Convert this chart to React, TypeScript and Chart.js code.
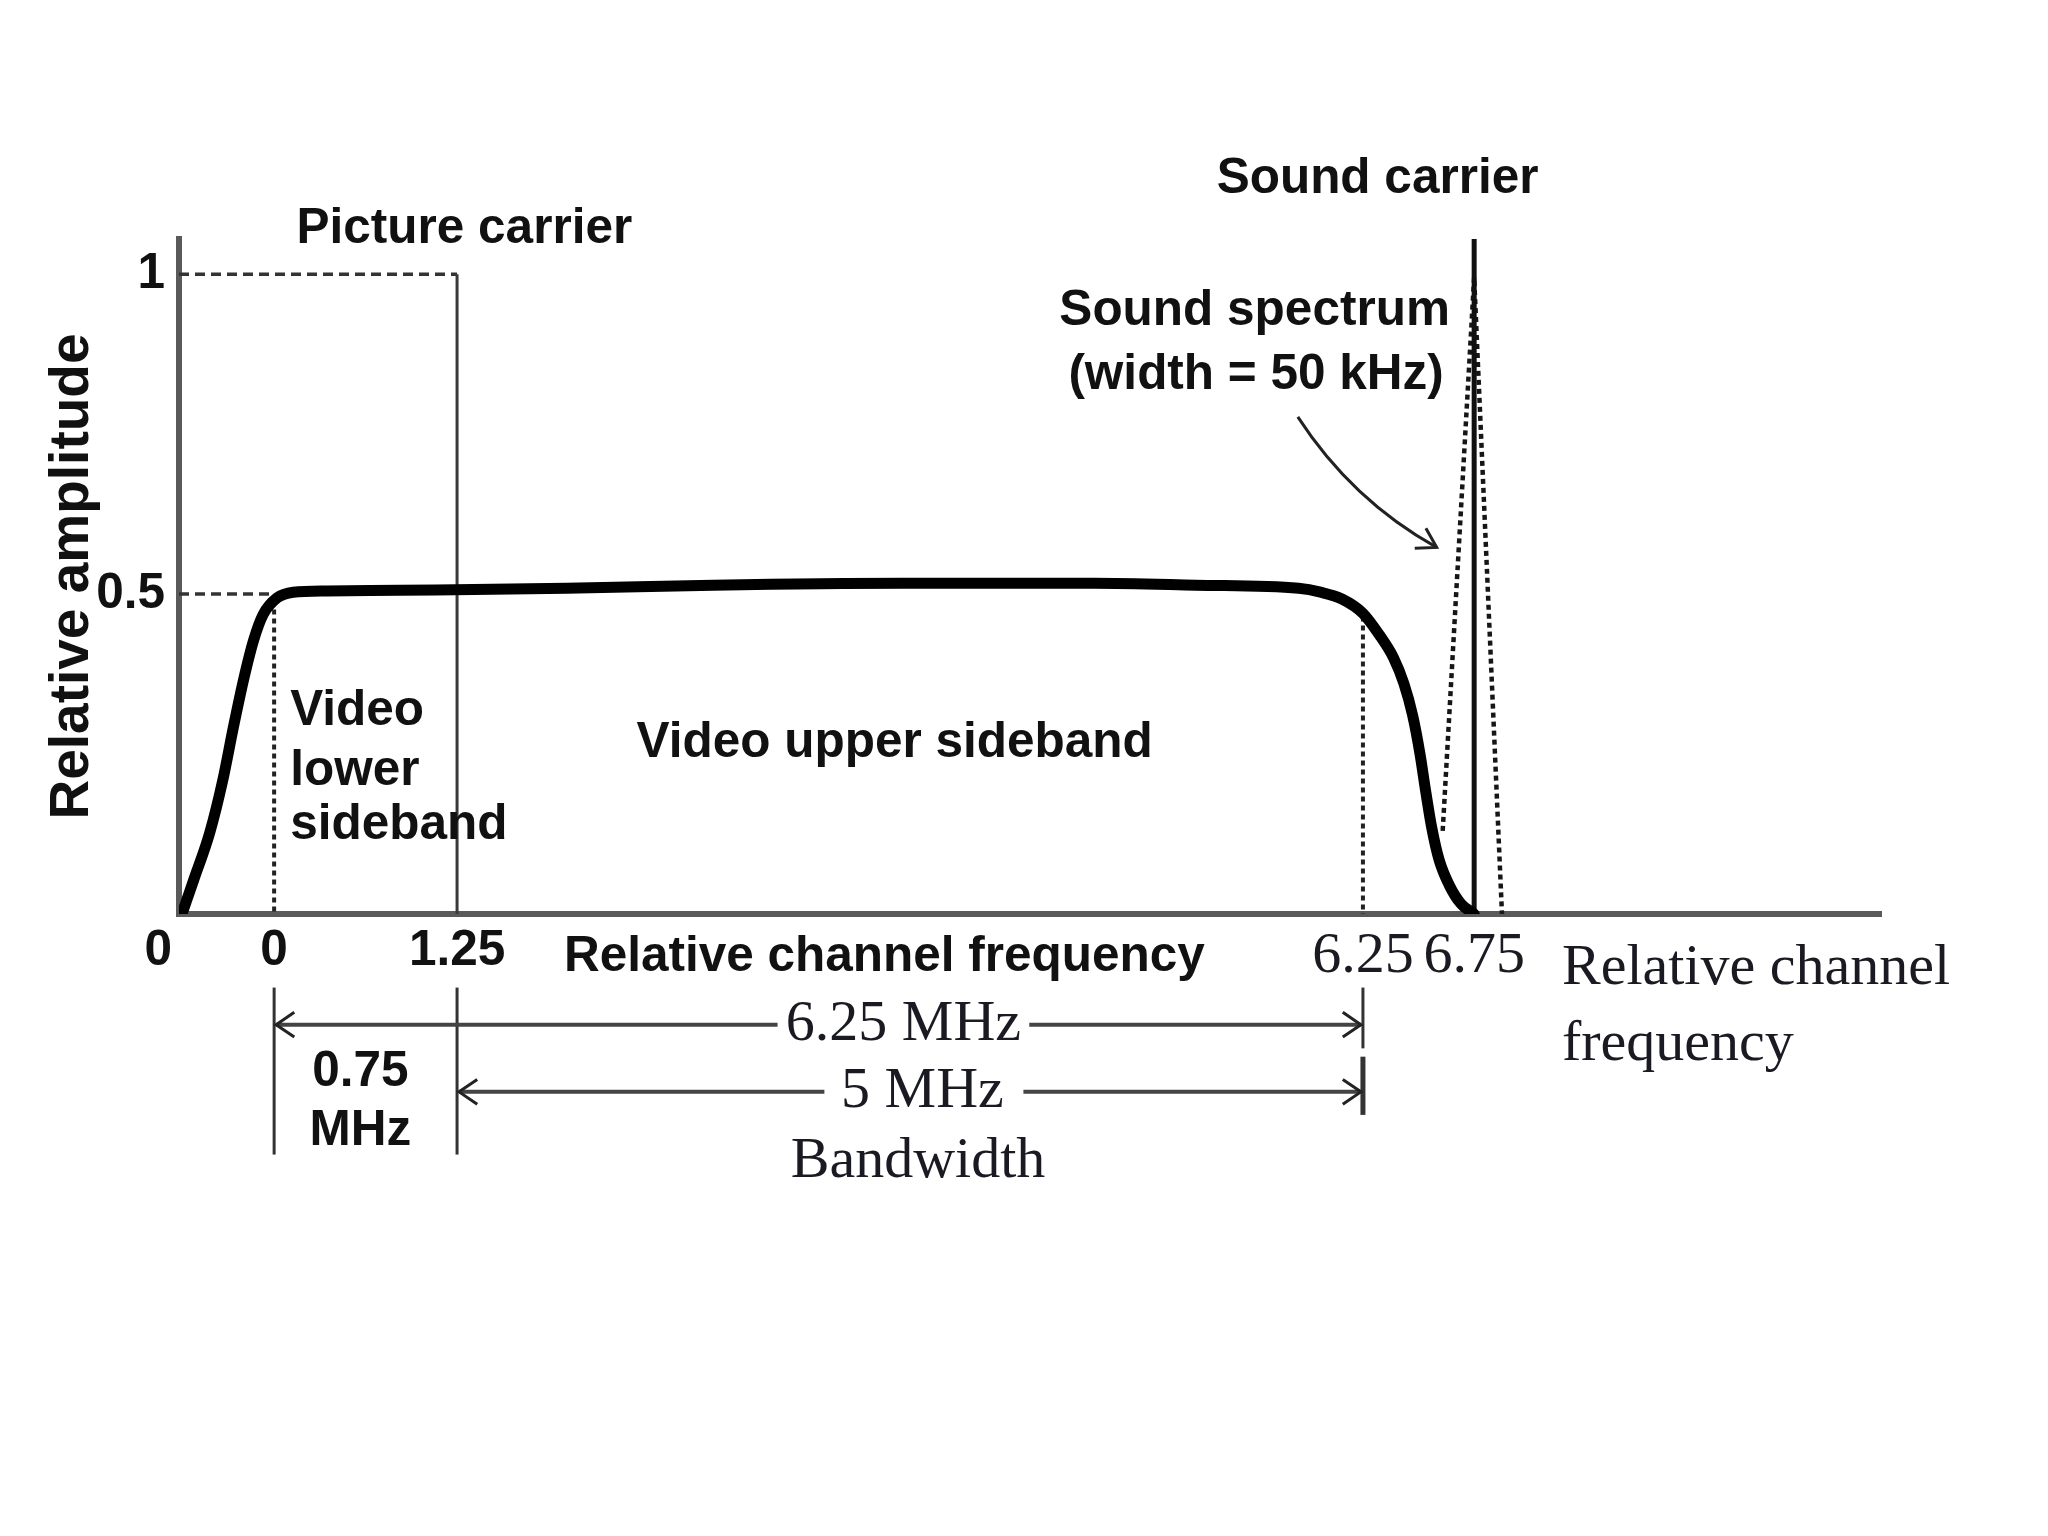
import React, { useEffect, useRef } from "react";
import { Chart, registerables } from "chart.js";

Chart.register(...registerables);

// x is in diagram units: 0 = lower band edge, 1.25 = picture carrier (the drawing is not to scale)
const curveX = [-0.63, -0.55, -0.44, -0.35, -0.28, -0.21, -0.14, -0.075, 0.02, 0.13, 0.36, 0.86, 2.0, 3.0, 4.3, 5.6, 6.3, 7.0, 7.15, 7.3, 7.44, 7.55, 7.65, 7.72, 7.78, 7.83, 7.87, 7.91, 7.96, 8.03, 8.11, 8.2];
const curveY = [0.0, 0.053, 0.127, 0.21, 0.29, 0.365, 0.428, 0.468, 0.494, 0.503, 0.505, 0.506, 0.509, 0.514, 0.517, 0.517, 0.514, 0.509, 0.503, 0.492, 0.47, 0.437, 0.4, 0.36, 0.31, 0.25, 0.19, 0.135, 0.085, 0.045, 0.016, 0.0];

const xTickValues = [-0.65, 0, 1.25, 7.44, 8.2];
const xTickLabels = ["0", "0", "1.25", "6.25", "6.75"];
const yTickValues = [0.5, 1];
const yTickLabels = ["0.5", "1"];

const X_MIN = -0.65;
const X_MAX = 10.98;
const Y_MAX = 1.055;

const lowerEdgeX = 0;
const pictureCarrierX = 1.25;
const upperEdgeX = 7.44;
const soundCarrierX = 8.2;
const soundCarrierTop = 1.055;
const lowerEdgeLevel = 0.49;
const upperEdgeLevel = 0.465;

const spectrumX = [7.985, 8.2, 8.39];
const spectrumY = [0.13, 0.995, 0];

const SANS = '"Liberation Sans", Arial, sans-serif';
const SERIF = '"Liberation Serif", "Times New Roman", serif';
const SANS_B = `bold 49.5px ${SANS}`;
const SERIF_R = `58px ${SERIF}`;
const INK = "#111";
const SERIF_INK = "#1a1a22";

type Label = { text: string; x: number; y: number; font: string; align: CanvasTextAlign; color: string };
const textLabels: Label[] = [
  { text: "Picture carrier", x: 1.3, y: 1.07, font: SANS_B, align: "center", color: INK },
  { text: "Sound carrier", x: 7.54, y: 1.148, font: SANS_B, align: "center", color: INK },
  { text: "Sound spectrum", x: 6.7, y: 0.942, font: SANS_B, align: "center", color: INK },
  { text: "(width = 50 kHz)", x: 6.71, y: 0.842, font: SANS_B, align: "center", color: INK },
  { text: "Video", x: 0.11, y: 0.316, font: SANS_B, align: "left", color: INK },
  { text: "lower", x: 0.11, y: 0.223, font: SANS_B, align: "left", color: INK },
  { text: "sideband", x: 0.11, y: 0.139, font: SANS_B, align: "left", color: INK },
  { text: "Video upper sideband", x: 4.24, y: 0.266, font: SANS_B, align: "center", color: INK },
  { text: "Relative channel frequency", x: 4.17, y: -0.067, font: SANS_B, align: "center", color: INK },
  { text: "Relative channel", x: 8.8, y: -0.086, font: SERIF_R, align: "left", color: SERIF_INK },
  { text: "frequency", x: 8.8, y: -0.205, font: SERIF_R, align: "left", color: SERIF_INK },
  { text: "6.25 MHz", x: 4.3, y: -0.173, font: SERIF_R, align: "center", color: SERIF_INK },
  { text: "5 MHz", x: 4.43, y: -0.278, font: SERIF_R, align: "center", color: SERIF_INK },
  { text: "Bandwidth", x: 4.4, y: -0.3875, font: SERIF_R, align: "center", color: SERIF_INK },
  { text: "0.75", x: 0.59, y: -0.247, font: SANS_B, align: "center", color: INK },
  { text: "MHz", x: 0.59, y: -0.339, font: SANS_B, align: "center", color: INK },
];

const dimBars = [
  { x: lowerEdgeX, y1: -0.115, y2: -0.376, w: 3 },
  { x: pictureCarrierX, y1: -0.115, y2: -0.376, w: 3 },
  { x: upperEdgeX, y1: -0.115, y2: -0.21, w: 3 },
  { x: upperEdgeX, y1: -0.223, y2: -0.314, w: 5 },
];
const dimArrows = [
  { y: -0.173, from: lowerEdgeX, to: upperEdgeX, gapFrom: 3.44, gapTo: 5.16 },
  { y: -0.278, from: pictureCarrierX, to: upperEdgeX, gapFrom: 3.76, gapTo: 5.12 },
];
const pointerStart = { x: 6.995, y: 0.777 };
const pointerControl = { x: 7.363, y: 0.647 };
const pointerEnd = { x: 7.944, y: 0.573 };

const pts = (xs: number[], ys: number[]) => xs.map((x, i) => ({ x, y: ys[i] }));

function arrowHead(ctx: CanvasRenderingContext2D, tx: number, ty: number, angle: number, len: number, spread: number) {
  ctx.beginPath();
  ctx.moveTo(tx - len * Math.cos(angle - spread), ty - len * Math.sin(angle - spread));
  ctx.lineTo(tx, ty);
  ctx.lineTo(tx - len * Math.cos(angle + spread), ty - len * Math.sin(angle + spread));
  ctx.stroke();
}

const annotationPlugin = {
  id: "diagramAnnotations",
  afterDatasetsDraw(chart: any) {
    const { ctx } = chart;
    const xs = chart.scales.x;
    const ys = chart.scales.y;
    const px = (v: number) => xs.getPixelForValue(v);
    const py = (v: number) => ys.getPixelForValue(v);
    ctx.save();
    ctx.lineCap = "butt";
    ctx.strokeStyle = "#333";
    for (const b of dimBars) {
      ctx.lineWidth = b.w;
      ctx.beginPath();
      ctx.moveTo(px(b.x), py(b.y1));
      ctx.lineTo(px(b.x), py(b.y2));
      ctx.stroke();
    }
    for (const a of dimArrows) {
      const y = py(a.y);
      ctx.strokeStyle = "#444";
      ctx.lineWidth = 4;
      ctx.beginPath();
      ctx.moveTo(px(a.from) + 2, y);
      ctx.lineTo(px(a.gapFrom), y);
      ctx.moveTo(px(a.gapTo), y);
      ctx.lineTo(px(a.to) - 2, y);
      ctx.stroke();
      ctx.lineWidth = 3;
      ctx.strokeStyle = "#222";
      arrowHead(ctx, px(a.from) + 2, y, Math.PI, 22, 0.6);
      arrowHead(ctx, px(a.to) - 2, y, 0, 22, 0.6);
    }
    const sx = px(pointerStart.x), sy = py(pointerStart.y);
    const cx = px(pointerControl.x), cy = py(pointerControl.y);
    const ex = px(pointerEnd.x), ey = py(pointerEnd.y);
    ctx.strokeStyle = "#222";
    ctx.lineWidth = 3;
    ctx.beginPath();
    ctx.moveTo(sx, sy);
    ctx.quadraticCurveTo(cx, cy, ex, ey);
    ctx.stroke();
    arrowHead(ctx, ex, ey, Math.atan2(ey - cy, ex - cx), 22, 0.55);
    ctx.textBaseline = "middle";
    for (const t of textLabels) {
      ctx.font = t.font;
      ctx.fillStyle = t.color;
      ctx.textAlign = t.align;
      ctx.fillText(t.text, px(t.x), py(t.y));
    }
    ctx.restore();
  },
};

export default function App() {
  const ref = useRef<HTMLCanvasElement>(null);
  useEffect(() => {
    if (!ref.current) return;
    const dotted = [5, 4];
    const dashed = [10, 6];
    const chart = new Chart(ref.current, {
      type: "line",
      data: {
        datasets: [
          {
            data: pts(curveX, curveY),
            borderColor: "#000",
            borderWidth: 11,
            cubicInterpolationMode: "monotone",
            borderJoinStyle: "round",
            borderCapStyle: "round",
            pointRadius: 0,
          },
          {
            data: [{ x: soundCarrierX, y: soundCarrierTop }, { x: soundCarrierX, y: 0 }],
            borderColor: "#111",
            borderWidth: 5,
            pointRadius: 0,
          },
          {
            data: pts(spectrumX, spectrumY),
            borderColor: "#161616",
            borderWidth: 4.5,
            borderDash: dotted,
            pointRadius: 0,
          },
          {
            data: [{ x: pictureCarrierX, y: 1 }, { x: pictureCarrierX, y: 0 }],
            borderColor: "#3a3a3a",
            borderWidth: 3,
            pointRadius: 0,
          },
          {
            data: [{ x: X_MIN, y: 1 }, { x: pictureCarrierX, y: 1 }],
            borderColor: "#333",
            borderWidth: 3.5,
            borderDash: dashed,
            pointRadius: 0,
          },
          {
            data: [{ x: X_MIN, y: 0.5 }, { x: lowerEdgeX, y: 0.5 }],
            borderColor: "#333",
            borderWidth: 3.5,
            borderDash: dashed,
            pointRadius: 0,
          },
          {
            data: [{ x: lowerEdgeX, y: lowerEdgeLevel }, { x: lowerEdgeX, y: 0 }],
            borderColor: "#222",
            borderWidth: 4,
            borderDash: dotted,
            pointRadius: 0,
          },
          {
            data: [{ x: upperEdgeX, y: upperEdgeLevel }, { x: upperEdgeX, y: 0 }],
            borderColor: "#222",
            borderWidth: 4,
            borderDash: dotted,
            pointRadius: 0,
          },
        ],
      },
      options: {
        responsive: false,
        animation: false,
        events: [],
        layout: { padding: { left: 0, top: 239, right: 167, bottom: 522 } },
        plugins: { legend: { display: false }, tooltip: { enabled: false } },
        scales: {
          x: {
            type: "linear",
            min: X_MIN,
            max: X_MAX,
            grid: { display: false, drawTicks: false },
            border: { display: true, color: "#5a5a5a", width: 6 },
            ticks: {
              autoSkip: false,
              maxRotation: 0,
              minRotation: 0,
              padding: 8,
              color: (c: any) => (c.index >= 3 ? SERIF_INK : INK),
              font: (c: any) =>
                c.index >= 3 ? { family: SERIF, size: 58 } : { family: SANS, size: 49.5, weight: "bold" },
              callback: (_v: any, i: number) => (i === 0 ? xTickLabels[i] + "\u00a0\u00a0\u00a0" : xTickLabels[i]),
            },
            afterBuildTicks: (s: any) => {
              s.ticks = xTickValues.map((v) => ({ value: v }));
            },
            afterFit: (s: any) => {
              s.height = 100;
            },
          },
          y: {
            type: "linear",
            min: 0,
            max: Y_MAX,
            grid: { display: false, drawTicks: false },
            border: { display: true, color: "#5a5a5a", width: 6 },
            ticks: {
              padding: 14,
              color: INK,
              font: { family: SANS, size: 49.5, weight: "bold" },
              callback: (_v: any, i: number) => yTickLabels[i],
            },
            afterBuildTicks: (s: any) => {
              s.ticks = yTickValues.map((v) => ({ value: v }));
            },
            afterFit: (s: any) => {
              s.width = 179;
            },
            title: {
              display: true,
              text: "Relative amplitude",
              color: INK,
              font: { family: SANS, size: 55, weight: "bold" },
              padding: { top: 40, bottom: 0 },
            },
          },
        },
      },
      plugins: [annotationPlugin],
    } as any);
    return () => chart.destroy();
  }, []);
  return (
    <div style={{ position: "fixed", left: 0, top: 0, width: 2048, height: 1536, background: "#fff" }}>
      <canvas ref={ref} width={2048} height={1536} style={{ width: 2048, height: 1536, display: "block" }} />
    </div>
  );
}
